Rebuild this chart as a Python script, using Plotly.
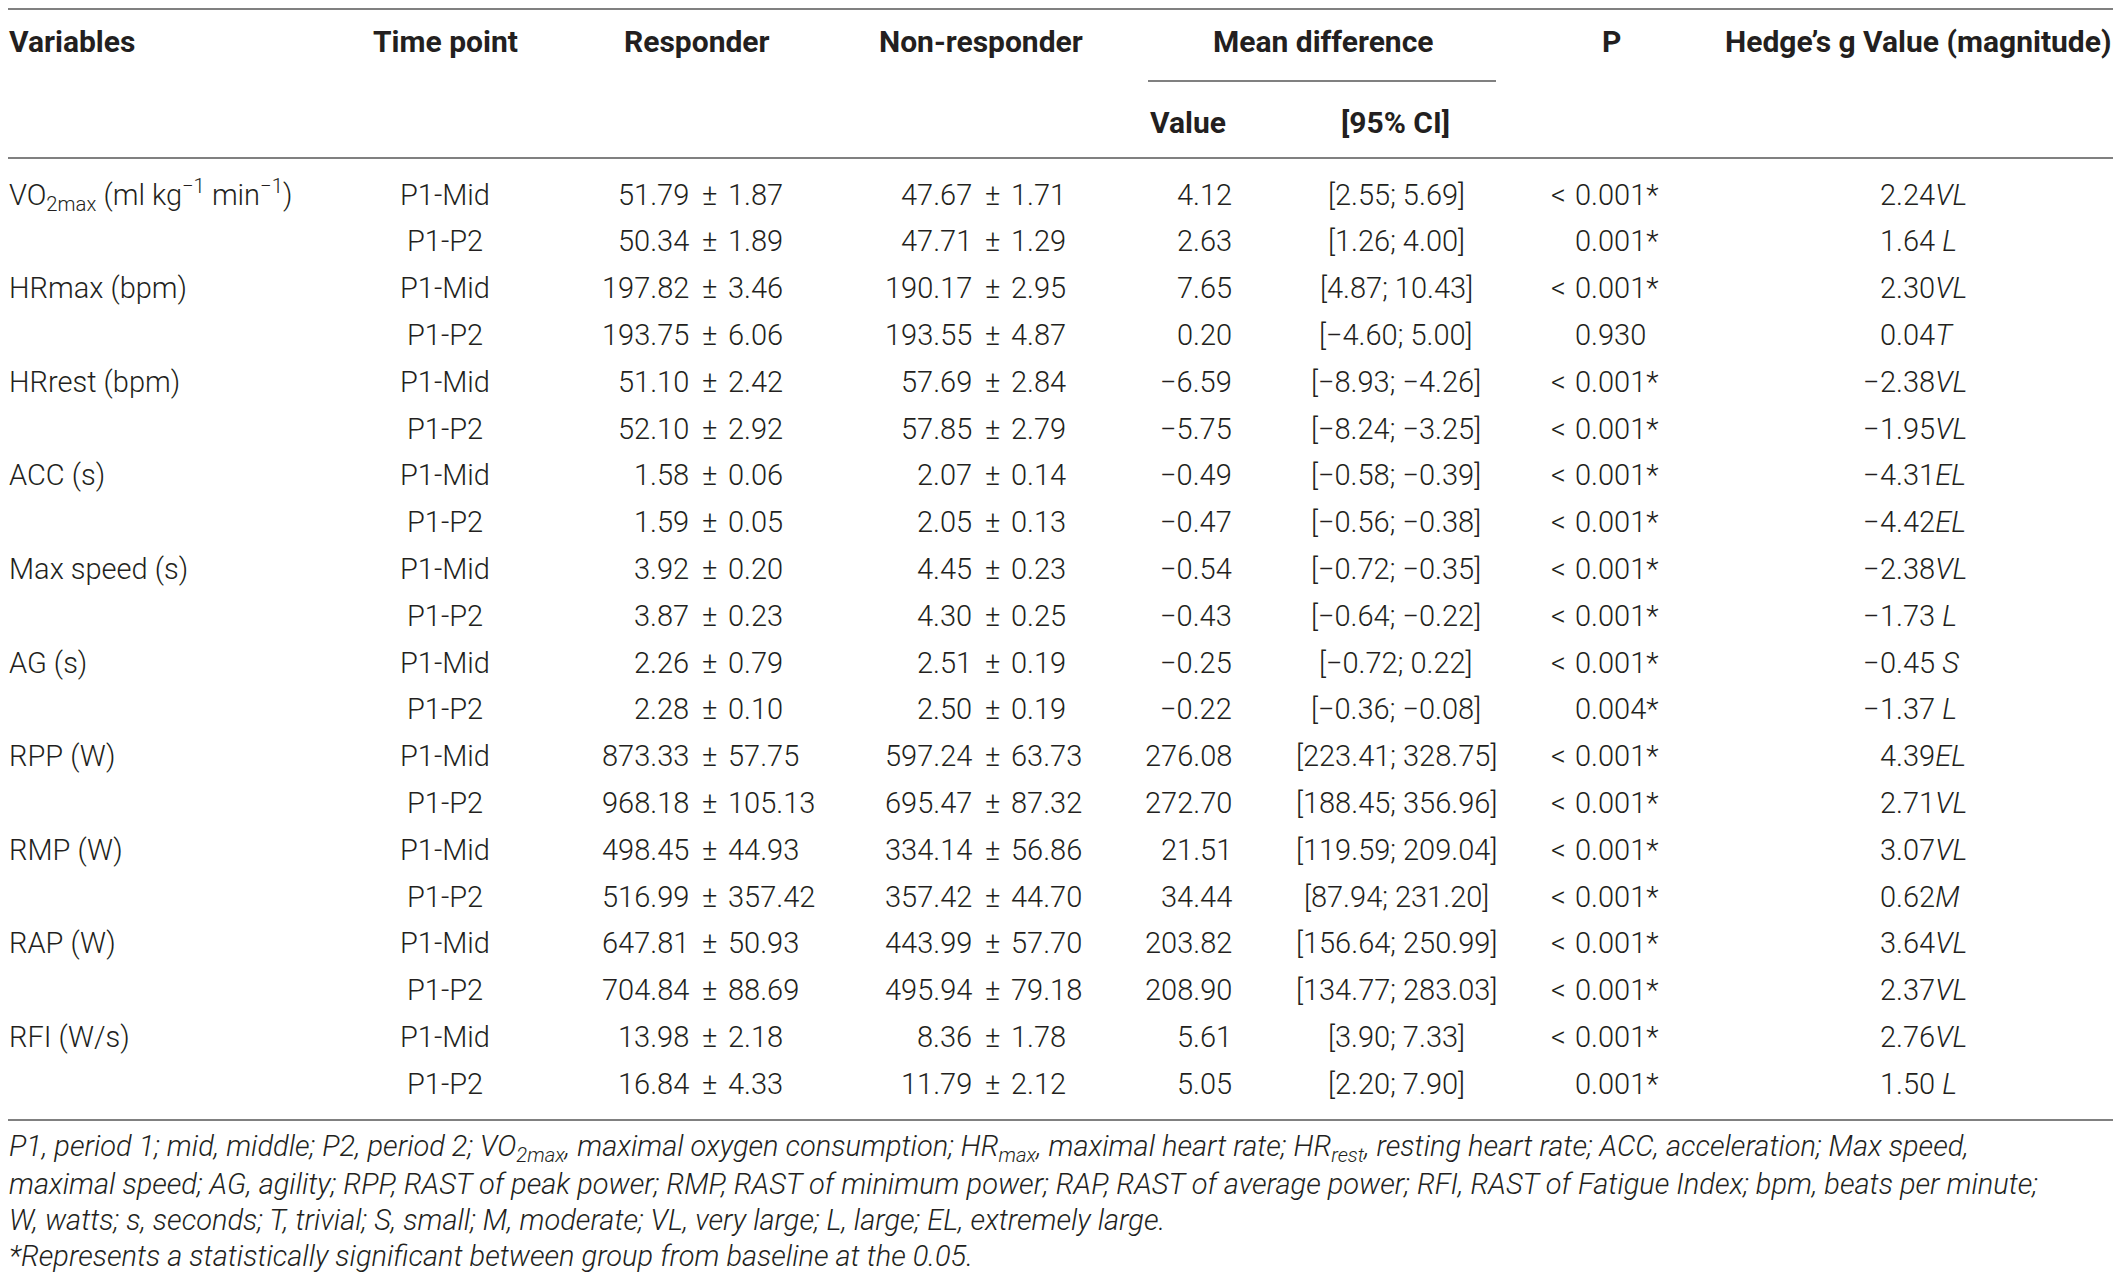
import plotly.graph_objects as go

# table content
variables = [
    "VO<sub>2max</sub> (ml kg<sup>−1</sup> min<sup>−1</sup>)",
    "HRmax (bpm)", "HRrest (bpm)", "ACC (s)", "Max speed (s)", "AG (s)",
    "RPP (W)", "RMP (W)", "RAP (W)", "RFI (W/s)",
]
time_points = ["P1-Mid", "P1-P2"]

responder_mean = ["51.79", "50.34", "197.82", "193.75", "51.10", "52.10", "1.58", "1.59",
                  "3.92", "3.87", "2.26", "2.28", "873.33", "968.18", "498.45", "516.99",
                  "647.81", "704.84", "13.98", "16.84"]
responder_sd = ["1.87", "1.89", "3.46", "6.06", "2.42", "2.92", "0.06", "0.05",
                "0.20", "0.23", "0.79", "0.10", "57.75", "105.13", "44.93", "357.42",
                "50.93", "88.69", "2.18", "4.33"]
nonresp_mean = ["47.67", "47.71", "190.17", "193.55", "57.69", "57.85", "2.07", "2.05",
                "4.45", "4.30", "2.51", "2.50", "597.24", "695.47", "334.14", "357.42",
                "443.99", "495.94", "8.36", "11.79"]
nonresp_sd = ["1.71", "1.29", "2.95", "4.87", "2.84", "2.79", "0.14", "0.13",
              "0.23", "0.25", "0.19", "0.19", "63.73", "87.32", "56.86", "44.70",
              "57.70", "79.18", "1.78", "2.12"]
mean_diff = ["4.12", "2.63", "7.65", "0.20", "−6.59", "−5.75", "−0.49", "−0.47",
             "−0.54", "−0.43", "−0.25", "−0.22", "276.08", "272.70", "21.51", "34.44",
             "203.82", "208.90", "5.61", "5.05"]
ci_95 = ["[2.55; 5.69]", "[1.26; 4.00]", "[4.87; 10.43]", "[−4.60; 5.00]",
         "[−8.93; −4.26]", "[−8.24; −3.25]", "[−0.58; −0.39]", "[−0.56; −0.38]",
         "[−0.72; −0.35]", "[−0.64; −0.22]", "[−0.72; 0.22]", "[−0.36; −0.08]",
         "[223.41; 328.75]", "[188.45; 356.96]", "[119.59; 209.04]", "[87.94; 231.20]",
         "[156.64; 250.99]", "[134.77; 283.03]", "[3.90; 7.33]", "[2.20; 7.90]"]
p_prefix = ["<", "", "<", "", "<", "<", "<", "<", "<", "<",
            "<", "", "<", "<", "<", "<", "<", "<", "<", ""]
p_values = ["0.001*", "0.001*", "0.001*", "0.930", "0.001*", "0.001*", "0.001*", "0.001*",
            "0.001*", "0.001*", "0.001*", "0.004*", "0.001*", "0.001*", "0.001*", "0.001*",
            "0.001*", "0.001*", "0.001*", "0.001*"]
hedge_g = ["2.24", "1.64", "2.30", "0.04", "−2.38", "−1.95", "−4.31", "−4.42",
           "−2.38", "−1.73", "−0.45", "−1.37", "4.39", "2.71", "3.07", "0.62",
           "3.64", "2.37", "2.76", "1.50"]
magnitude = ["VL", " L", "VL", "T", "VL", "VL", "EL", "EL", "VL", " L",
             " S", " L", "EL", "VL", "VL", "M", "VL", "VL", "VL", " L"]

footnotes = [
    "P1, period 1; mid, middle; P2, period 2; VO<sub>2max</sub>, maximal oxygen consumption; "
    "HR<sub>max</sub>, maximal heart rate; HR<sub>rest</sub>, resting heart rate; ACC, acceleration; Max speed,",
    "maximal speed; AG, agility; RPP, RAST of peak power; RMP, RAST of minimum power; "
    "RAP, RAST of average power; RFI, RAST of Fatigue Index; bpm, beats per minute;",
    "W, watts; s, seconds; T, trivial; S, small; M, moderate; VL, very large; L, large; EL, extremely large.",
    "*Represents a statistically significant between group from baseline at the 0.05.",
]

# page is 2121x1281, the figure sits 8px in (body margin), so axes use page pixels
PAD = 8
W, H = 2121, 1281
TXT = "#231f20"
RULE = "#808080"
FAM = "Roboto"
body = dict(family=FAM, size=29, color=TXT, weight=300)
bold = dict(family=FAM, size=30, color=TXT, weight=700)
foot = dict(family=FAM, size=29, color=TXT, weight=300, style="italic")

row0, row_step = 194.5, 46.8

fig = go.Figure()
ann = []


def add(x, y, text, font, anchor="center"):
    ann.append(dict(x=x, y=y, xref="x", yref="y", text=text, showarrow=False,
                    xanchor=anchor, yanchor="middle", font=font,
                    borderpad=0, borderwidth=0))


# header
add(9, 41, "Variables", bold, "left")
add(445, 41, "Time point", bold)
add(697, 41, "Responder", bold)
add(981, 41, "Non-responder", bold)
add(1323, 41, "Mean difference", bold)
add(1611, 41, "P", bold)
add(2112, 41, "Hedge’s g Value (magnitude)", bold, "right")
add(1188, 122, "Value", bold)
add(1395, 122, "[95% CI]", bold)

# body rows
for i in range(len(responder_mean)):
    y = row0 + i * row_step
    if i % 2 == 0:
        add(9, y, variables[i // 2], body, "left")
    add(445, y, time_points[i % 2], body)
    add(689, y, responder_mean[i], body, "right")
    add(709, y, "±", body)
    add(728, y, responder_sd[i], body, "left")
    add(972, y, nonresp_mean[i], body, "right")
    add(992, y, "±", body)
    add(1011, y, nonresp_sd[i], body, "left")
    add(1232, y, mean_diff[i], body, "right")
    add(1396, y, ci_95[i], body)
    if p_prefix[i]:
        add(1566, y, p_prefix[i], body, "right")
    add(1575, y, p_values[i], body, "left")
    g = hedge_g[i]
    if g.startswith("−"):
        add(1880, y, "−", body, "right")
        g = g[1:]
    add(1880, y, g + "<i>" + magnitude[i] + "</i>", body, "left")

# footnote
for k, line in enumerate(footnotes):
    add(9, 1148 + k * 36, line, foot, "left")

# rules
shapes = [
    dict(type="line", x0=PAD, x1=2113, y0=9, y1=9),
    dict(type="line", x0=1148, x1=1496, y0=81, y1=81),
    dict(type="line", x0=PAD, x1=2113, y0=158, y1=158),
    dict(type="line", x0=PAD, x1=2113, y0=1120, y1=1120),
]
for s in shapes:
    s.update(xref="x", yref="y", line=dict(color=RULE, width=2))

fig.update_layout(
    width=W - 2 * PAD, height=H - 2 * PAD,
    margin=dict(l=0, r=0, t=0, b=0),
    paper_bgcolor="white", plot_bgcolor="white",
    xaxis=dict(range=[PAD, W - PAD], visible=False, fixedrange=True),
    yaxis=dict(range=[H - PAD, PAD], visible=False, fixedrange=True),
    annotations=ann, shapes=shapes, showlegend=False,
)

fig.write_html("out.html")
